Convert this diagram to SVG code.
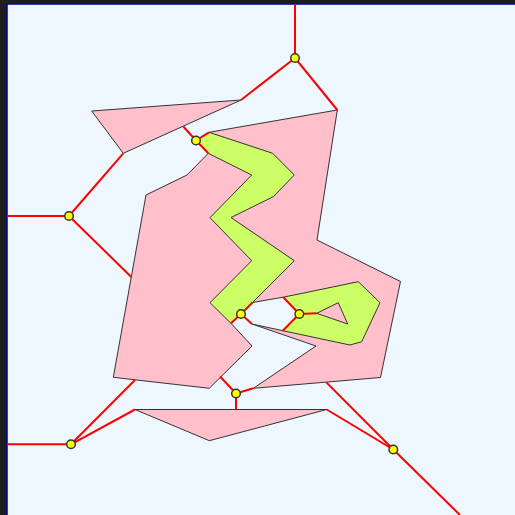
<svg xmlns="http://www.w3.org/2000/svg" width="515" height="515" viewBox="0 0 515 515">
<style>
.pk{fill:#ffc0cb;stroke:#333;stroke-width:1;stroke-linejoin:miter}
.gr{fill:#ccff66;stroke:#333;stroke-width:1}
.hole{fill:#eef6ff;stroke:#333;stroke-width:1}
.e{stroke:#ff0000;stroke-width:2;fill:none;stroke-linecap:butt}
.n{fill:#ffff00;stroke:#333;stroke-width:1.5}
</style>
<rect x="0" y="0" width="515" height="515" fill="#1e1e1e"/>
<rect x="7" y="4" width="520" height="520" fill="#eef6ff" stroke="#0000a0" stroke-width="1.5"/>
<g id="shapes">
<polygon class="pk" points="91.7,111 241,100 123.3,153.3"/>
<polygon class="pk" points="209,132.3 337.3,110 317,240 400.5,281.5 380.5,377.5 253.3,388.3 316,346 252,324 241,314 231,323.3 252,346 209.3,388.3 113.3,377.3 146,195 187,175 208.3,153.3 196,140.5"/>
<polygon class="hole" points="252.5,302.5 283.3,297.2 299.3,314 282.7,330.7 252,324 241,314"/>
<polygon class="gr" points="209,132.3 272.7,153.3 294.3,175 273.3,196.7 231,217.5 294.3,260.7 252.5,302.5 241,314 231,323.3 210,302.7 251.7,260.7 210,217.7 251.7,175 208.3,153.3 196,140.5"/>
<polygon class="gr" points="283.3,297.2 358.3,281.7 380,302.7 361.7,341.7 350,345 282.7,330.7 299.3,314"/>
<polygon class="pk" points="316.7,313.3 338.3,302.7 347.7,324"/>
<polygon class="pk" points="135,409.5 326.7,409.5 209.3,440.7"/>
</g>
<g id="connectors">
<line class="e" x1="295" y1="58" x2="295" y2="4.5"/>
<line class="e" x1="295" y1="58" x2="241" y2="100"/>
<line class="e" x1="295" y1="58" x2="337.3" y2="110"/>
<line class="e" x1="196" y1="140.5" x2="183.3" y2="126.5"/>
<line class="e" x1="196" y1="140.5" x2="209" y2="132.3"/>
<line class="e" x1="196" y1="140.5" x2="208.3" y2="153.3"/>
<line class="e" x1="69" y1="216" x2="7.5" y2="216"/>
<line class="e" x1="69" y1="216" x2="123.3" y2="153.3"/>
<line class="e" x1="69" y1="216" x2="131.3" y2="277"/>
<line class="e" x1="241" y1="314" x2="252.5" y2="302.5"/>
<line class="e" x1="241" y1="314" x2="231" y2="323.3"/>
<line class="e" x1="241" y1="314" x2="252" y2="324"/>
<line class="e" x1="299.3" y1="314" x2="283.3" y2="297.2"/>
<line class="e" x1="299.3" y1="314" x2="282.7" y2="330.7"/>
<line class="e" x1="299.3" y1="314" x2="316.7" y2="313.3"/>
<line class="e" x1="236" y1="393.5" x2="220" y2="376.5"/>
<line class="e" x1="236" y1="393.5" x2="253.3" y2="388.3"/>
<line class="e" x1="236" y1="393.5" x2="236" y2="409.5"/>
<line class="e" x1="71" y1="444.3" x2="7.5" y2="444.3"/>
<line class="e" x1="71" y1="444.3" x2="135" y2="380"/>
<line class="e" x1="71" y1="444.3" x2="135" y2="409.5"/>
<line class="e" x1="393.3" y1="449.5" x2="326.3" y2="382.4"/>
<line class="e" x1="393.3" y1="449.5" x2="326.7" y2="409.5"/>
<line class="e" x1="393.3" y1="449.5" x2="460" y2="515"/>
</g>
<g id="n1"><circle class="n" cx="295" cy="58" r="4.3"/></g>
<g id="n2"><circle class="n" cx="196" cy="140.5" r="4.3"/></g>
<g id="n3"><circle class="n" cx="69" cy="216" r="4.3"/></g>
<g id="n4"><circle class="n" cx="241" cy="314" r="4.3"/></g>
<g id="n5"><circle class="n" cx="299.3" cy="314" r="4.3"/></g>
<g id="n6"><circle class="n" cx="236" cy="393.5" r="4.3"/></g>
<g id="n7"><circle class="n" cx="71" cy="444.3" r="4.3"/></g>
<g id="n8"><circle class="n" cx="393.3" cy="449.5" r="4.3"/></g>
</svg>
